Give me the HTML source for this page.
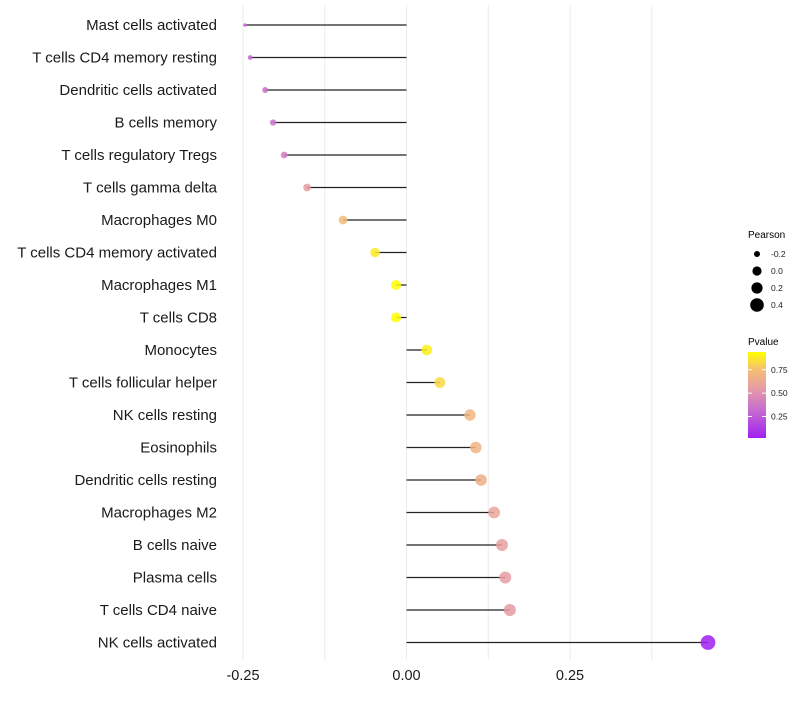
<!DOCTYPE html>
<html><head><meta charset="utf-8"><style>
body{margin:0;background:#fff;font-family:"Liberation Sans",sans-serif}
svg text{font-family:"Liberation Sans",sans-serif}
</style></head><body>
<svg id="c" width="800" height="700"></svg>
<script>
const categories=["Mast cells activated","T cells CD4 memory resting","Dendritic cells activated","B cells memory","T cells regulatory  Tregs","T cells gamma delta","Macrophages M0","T cells CD4 memory activated","Macrophages M1","T cells CD8","Monocytes","T cells follicular helper","NK cells resting","Eosinophils","Dendritic cells resting","Macrophages M2","B cells naive","Plasma cells","T cells CD4 naive","NK cells activated"];
const pearson=[-0.247,-0.239,-0.216,-0.204,-0.187,-0.152,-0.097,-0.048,-0.016,-0.016,0.031,0.051,0.097,0.106,0.114,0.134,0.146,0.151,0.158,0.461];
const pvalue=[0.3,0.3,0.33,0.35,0.4,0.55,0.72,0.88,0.95,0.95,0.9,0.83,0.7,0.68,0.66,0.6,0.57,0.56,0.54,0.02];
const xTicks=[-0.25,0,0.25];
const xTickLabels=["-0.25","0.00","0.25"];
const sizeLegend=[-0.2,0.0,0.2,0.4];
const colorLegend=[0.25,0.5,0.75];
const NS="http://www.w3.org/2000/svg";
const svg=document.getElementById('c');
function el(t,a,p){const e=document.createElementNS(NS,t);for(const k in a)e.setAttribute(k,a[k]);(p||svg).appendChild(e);return e;}
const x=v=>406.5+v*654;
const y=i=>25+i*32.5;
const pmin=0.02,pmax=0.94;
const r=v=>1.8+5.6*Math.sqrt(Math.max(0,(v+0.247)/0.708));
const stops=[[0,[160,32,240]],[0.33,[200,110,208]],[0.6,[232,160,160]],[0.8,[245,192,112]],[1,[255,255,0]]];
function col(p){let t=Math.max(0,Math.min(1,(p-pmin)/(pmax-pmin)));for(let i=1;i<stops.length;i++){if(t<=stops[i][0]){const a=stops[i-1],b=stops[i];const f=(t-a[0])/(b[0]-a[0]);const c=a[1].map((v,j)=>Math.round(v+(b[1][j]-v)*f));return `rgb(${c})`;}}return 'rgb(255,255,0)';}
for(let v=-0.25;v<=0.38;v+=0.125){const g=el('line',{x1:x(v),x2:x(v),y1:5,y2:660,stroke:'#ebebeb','stroke-width':1});

}
categories.forEach((c,i)=>{
 const t=el('text',{x:217,y:y(i)+5,'text-anchor':'end','font-size':15,fill:'#1a1a1a'});t.textContent=c;
 
 
 const l=el('line',{x1:x(0),x2:x(pearson[i]),y1:y(i),y2:y(i),stroke:'#222','stroke-width':1.2});
 
 
 const d=el('circle',{cx:x(pearson[i]),cy:y(i),r:r(pearson[i]),fill:col(pvalue[i]),'fill-opacity':0.85});
 
 
});
xTicks.forEach((v,i)=>{const t=el('text',{x:x(v),y:680,'text-anchor':'middle','font-size':14.5,fill:'#1a1a1a'});t.textContent=xTickLabels[i];

});
const st=el('text',{x:748,y:238,'font-size':10,fill:'#000'});st.textContent='Pearson';


sizeLegend.forEach((v,i)=>{const yy=254+i*17;
 const c=el('circle',{cx:757,cy:yy,r:[3,4.6,5.6,6.8][i],fill:'#000'});
 
 
 const t=el('text',{x:771,y:yy+3,'font-size':8.5,fill:'#222'});t.textContent=v.toFixed(1);
 
 });
const ct=el('text',{x:748,y:345,'font-size':10,fill:'#000'});ct.textContent='Pvalue';


const defs=el('defs',{});const lg=el('linearGradient',{id:'g',x1:0,y1:1,x2:0,y2:0},defs);
stops.forEach(s=>el('stop',{offset:s[0],'stop-color':`rgb(${s[1]})`},lg));
const bar=el('rect',{x:748,y:352,width:18,height:86,fill:'url(#g)'});


const cy=p=>438-(p-pmin)/(pmax-pmin)*86;
colorLegend.forEach(v=>{el('line',{x1:748,x2:752,y1:cy(v),y2:cy(v),stroke:'#fff'});el('line',{x1:762,x2:766,y1:cy(v),y2:cy(v),stroke:'#fff'});
 const t=el('text',{x:771,y:cy(v)+3,'font-size':8.5,fill:'#222'});t.textContent=v.toFixed(2);
 
 });
</script>
</body></html>
